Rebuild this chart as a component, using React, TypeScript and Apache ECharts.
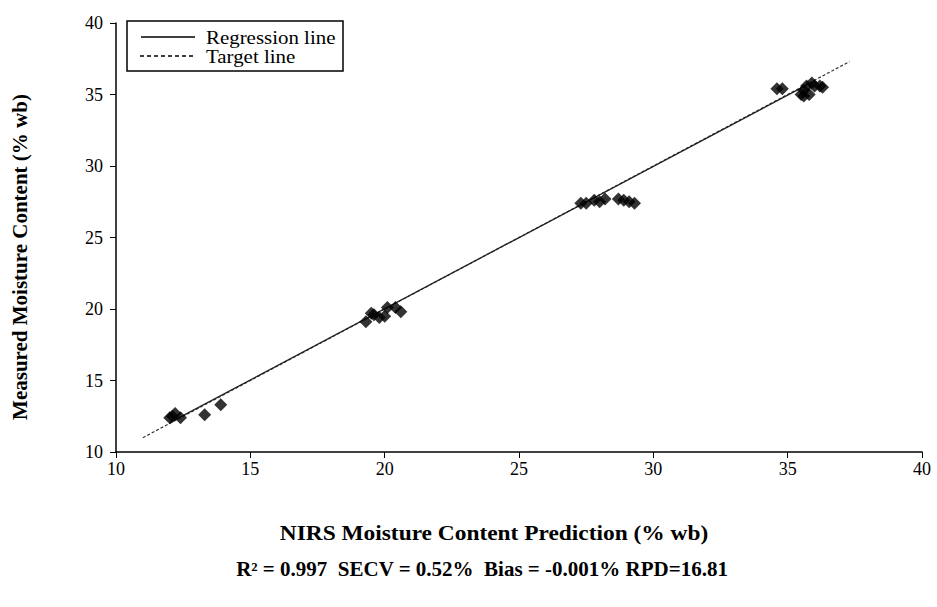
import React, { useEffect, useRef } from "react";
import * as echarts from "echarts";

const predicted = [
  12.0, 12.2, 12.4, 12.1, 13.3, 13.9,
  19.3, 19.5, 19.8, 20.0, 20.1, 20.4, 20.6, 19.6,
  27.3, 27.5, 27.8, 28.0, 28.2, 28.7, 28.9, 29.1, 29.3,
  34.6, 34.8, 35.5, 35.6, 35.7, 35.8, 35.9, 36.0, 36.2, 36.3, 35.6,
];
const measured = [
  12.4, 12.7, 12.4, 12.5, 12.6, 13.3,
  19.1, 19.7, 19.4, 19.5, 20.1, 20.1, 19.8, 19.6,
  27.4, 27.4, 27.6, 27.5, 27.7, 27.7, 27.6, 27.5, 27.4,
  35.4, 35.4, 35.0, 35.3, 35.6, 35.0, 35.8, 35.6, 35.6, 35.5, 34.9,
];
const regressionX = [12.0, 36.0];
const regressionY = [12.05, 35.95];
const targetX = [11.0, 37.3];
const targetY = [11.0, 37.3];
const xTicks = [10, 15, 20, 25, 30, 35, 40];
const yTicks = [10, 15, 20, 25, 30, 35, 40];

const FONT = "'Liberation Serif', 'DejaVu Serif', serif";

export default function App() {
  const ref = useRef<HTMLDivElement>(null);
  useEffect(() => {
    if (!ref.current) return;
    const chart = echarts.init(ref.current, null, { renderer: "svg" });
    const scatter = predicted.map((x, i) => [x, measured[i]]);
    chart.setOption({
      animation: false,
      backgroundColor: "#fff",
      textStyle: { fontFamily: FONT },
      grid: { left: 116, right: 15, top: 23, bottom: 155 },
      xAxis: {
        type: "value",
        min: xTicks[0],
        max: xTicks[xTicks.length - 1],
        interval: 5,
        axisLine: { show: true, lineStyle: { color: "#000", width: 1.5 } },
        axisTick: { show: true, length: 6, lineStyle: { color: "#000" } },
        axisLabel: { color: "#000", fontSize: 18, fontFamily: FONT, margin: 8 },
        splitLine: { show: false },
      },
      yAxis: {
        type: "value",
        min: yTicks[0],
        max: yTicks[yTicks.length - 1],
        interval: 5,
        axisLine: { show: true, lineStyle: { color: "#000", width: 1.5 } },
        axisTick: { show: true, length: 6, lineStyle: { color: "#000" } },
        axisLabel: { color: "#000", fontSize: 18, fontFamily: FONT, margin: 13 },
        splitLine: { show: false },
      },
      series: [
        {
          type: "line",
          data: targetX.map((x, i) => [x, targetY[i]]),
          showSymbol: false,
          lineStyle: { color: "#333", width: 1.2, type: [3, 2] },
          z: 1,
        },
        {
          type: "line",
          data: regressionX.map((x, i) => [x, regressionY[i]]),
          showSymbol: false,
          lineStyle: { color: "#222", width: 1.3 },
          z: 2,
        },
        {
          type: "scatter",
          data: scatter,
          symbol: "diamond",
          symbolSize: 13,
          itemStyle: { color: "#000" },
          z: 3,
        },
      ],
      graphic: [
        {
          type: "rect",
          shape: { x: 127, y: 21, width: 216, height: 50 },
          style: { fill: "#fff", stroke: "#000", lineWidth: 1.5 },
          z: 10,
        },
        {
          type: "line",
          shape: { x1: 141, y1: 37, x2: 195, y2: 37 },
          style: { stroke: "#000", lineWidth: 1.5 },
          z: 11,
        },
        {
          type: "line",
          shape: { x1: 140, y1: 56, x2: 195, y2: 56 },
          style: { stroke: "#000", lineWidth: 1.5, lineDash: [4, 3] },
          z: 11,
        },
        {
          type: "text",
          x: 206,
          y: 37,
          scaleX: 1.1,
          style: { text: "Regression line", fontSize: 19, fontFamily: FONT, fill: "#000", verticalAlign: "middle" },
          z: 11,
        },
        {
          type: "text",
          x: 206,
          y: 56,
          scaleX: 1.1,
          style: { text: "Target line", fontSize: 19, fontFamily: FONT, fill: "#000", verticalAlign: "middle" },
          z: 11,
        },
        {
          type: "text",
          x: 20,
          y: 257,
          rotation: Math.PI / 2,
          scaleX: 1.05,
          style: {
            text: "Measured Moisture Content (% wb)",
            fontSize: 20,
            fontWeight: "bold",
            fontFamily: FONT,
            fill: "#000",
            align: "center",
            verticalAlign: "middle",
          },
        },
        {
          type: "text",
          x: 494,
          y: 534,
          scaleX: 1.17,
          style: {
            text: "NIRS Moisture Content Prediction (% wb)",
            fontSize: 20,
            fontWeight: "bold",
            fontFamily: FONT,
            fill: "#000",
            align: "center",
            verticalAlign: "middle",
          },
        },
        {
          type: "text",
          x: 482,
          y: 569,
          scaleX: 1.05,
          style: {
            text: "R² = 0.997  SECV = 0.52%  Bias = -0.001% RPD=16.81",
            fontSize: 20,
            fontWeight: "bold",
            fontFamily: FONT,
            fill: "#000",
            align: "center",
            verticalAlign: "middle",
          },
        },
      ],
    });
    return () => chart.dispose();
  }, []);
  return <div ref={ref} style={{ width: 937, height: 607, position: "absolute", left: 0, top: 0 }} />;
}
